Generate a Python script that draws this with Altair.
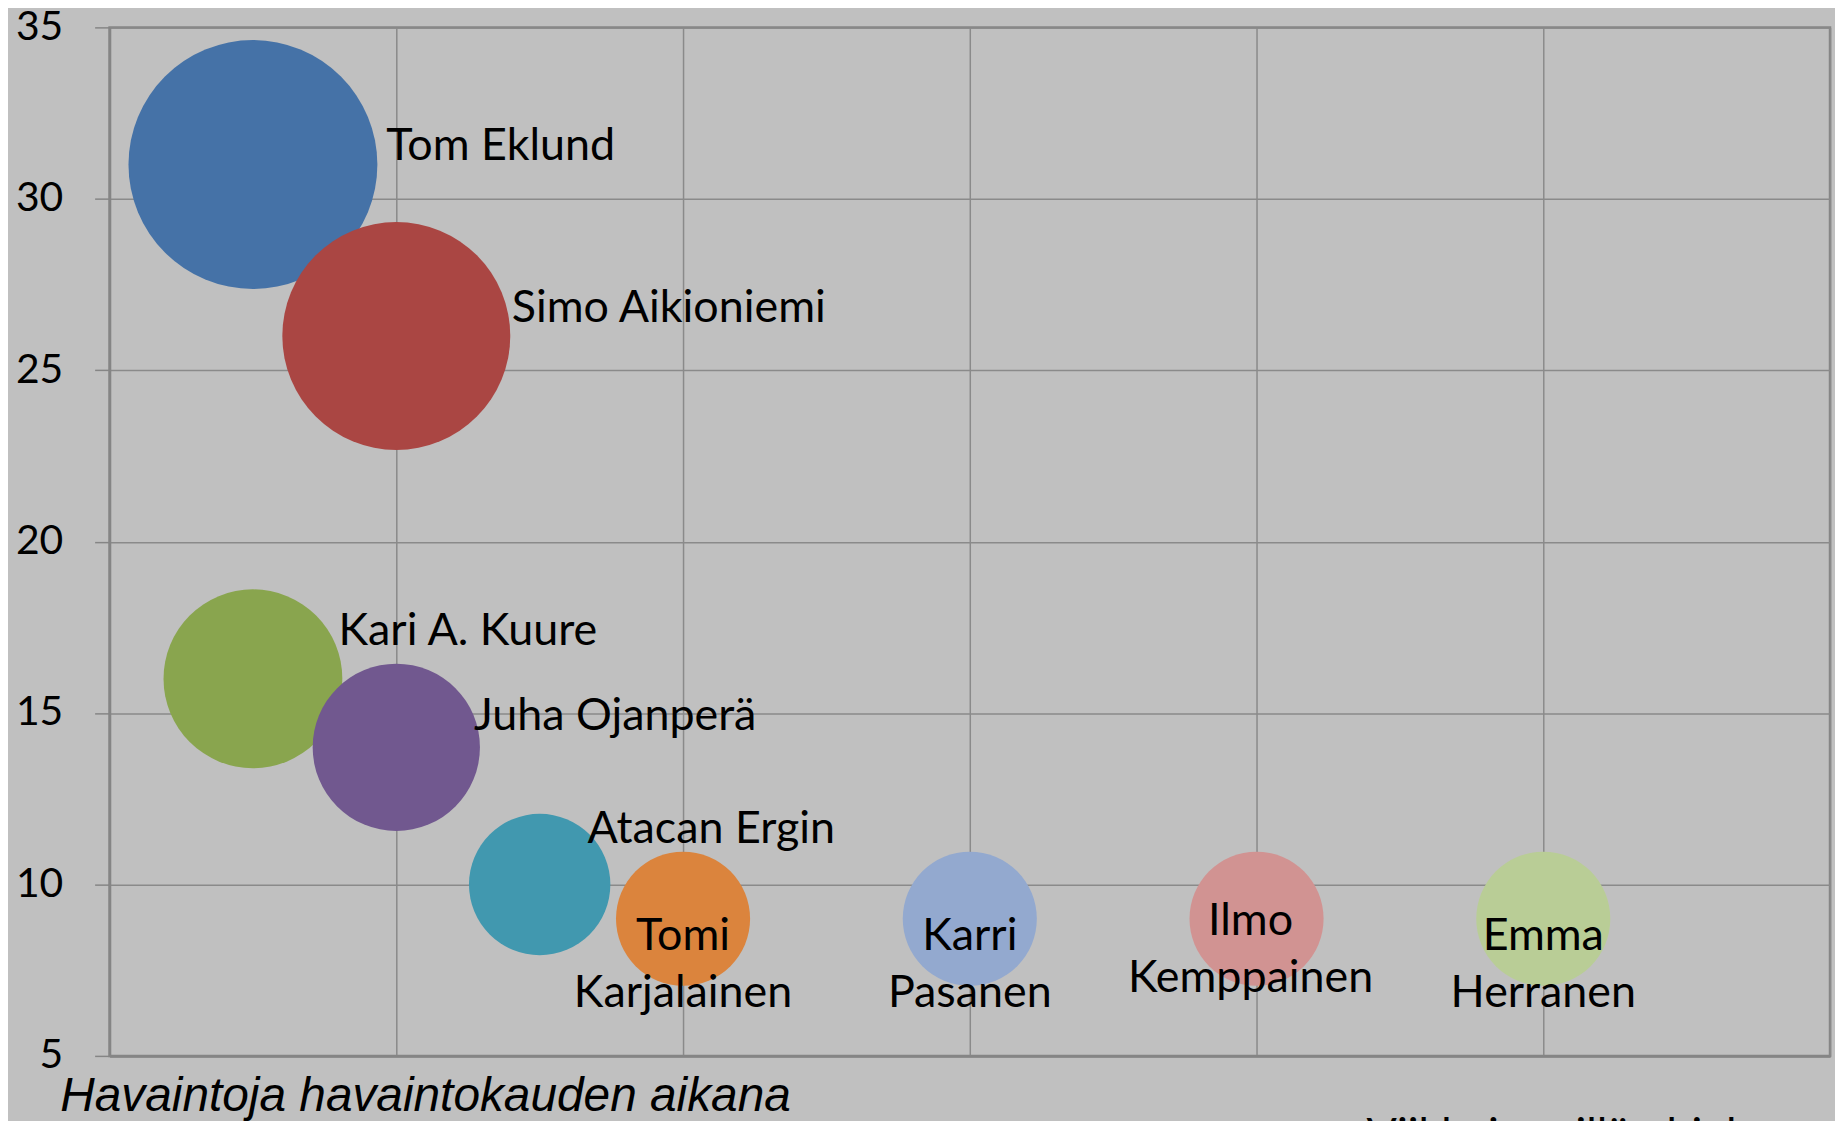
import altair as alt
import pandas as pd

# ---- data ----
names = ["Tom Eklund", "Simo Aikioniemi", "Kari A. Kuure", "Juha Ojanperä",
         "Atacan Ergin", "Tomi Karjalainen", "Karri Pasanen", "Ilmo Kemppainen",
         "Emma Herranen"]
x_vals = [0.5, 1, 0.5, 1, 1.5, 2, 3, 4, 5]
y_vals = [31, 26, 16, 14, 10, 9, 9, 9, 9]
sizes = [31, 26, 16, 14, 10, 9, 9, 9, 9]
palette = ["#4572A7", "#AA4643", "#89A54E", "#71588F", "#4198AF",
           "#DB843D", "#93A9CF", "#D19392", "#B9CD96"]
y_ticks = [5, 10, 15, 20, 25, 30, 35]
x_ticks = [0, 1, 2, 3, 4, 5, 6]
y_title = "Havaintoja havaintokauden aikana"
x_title = "Viikkoja esillä ohjelmassa mukana"

df = pd.DataFrame({"name": names, "x": x_vals, "y": y_vals,
                   "size": sizes, "order": list(range(len(names)))})

W, H = 1728, 1033
GRID = "#8a8a8a"
FRAME = "#858585"

xs = alt.Scale(domain=[0, 6], nice=False, zero=False)
ys = alt.Scale(domain=[5, 35], nice=False, zero=False)

base = alt.Chart(df)

bubbles = base.mark_circle(opacity=1, strokeWidth=0).encode(
    x=alt.X("x:Q", scale=xs,
            axis=alt.Axis(values=x_ticks, labels=False, ticks=False, grid=True,
                          gridColor=GRID, gridWidth=1.5, domainColor=FRAME,
                          domainWidth=2.5, title=x_title, titleFont="Lato",
                          titleFontSize=45, titleFontWeight="normal",
                          titleColor="black", titleAlign="left",
                          titleBaseline="alphabetic", titleX=1262, titleY=94)),
    y=alt.Y("y:Q", scale=ys,
            axis=alt.Axis(values=y_ticks, grid=True, gridColor=GRID, gridWidth=1.5,
                          domainColor=FRAME, domainWidth=2.5, tickColor=FRAME,
                          tickWidth=1.5, tickSize=15, labelFont="Lato",
                          labelFontSize=41, labelColor="black", labelPadding=32,
                          title=y_title, titleFont="Liberation Sans",
                          titleFontStyle="italic", titleFontWeight="normal",
                          titleFontSize=48, titleColor="black", titleAngle=0,
                          titleAlign="left", titleBaseline="alphabetic",
                          titleX=-50, titleY=1088)),
    size=alt.Size("size:Q", scale=alt.Scale(domain=[0, 31], range=[0, 62500]),
                  legend=None),
    color=alt.Color("name:N", scale=alt.Scale(domain=names, range=palette),
                    legend=None),
    order=alt.Order("order:Q"),
)

# label placement (style): name -> (dx, dy, align, multiline)
placement = {
    "Tom Eklund": (134, -5, "left", False),
    "Simo Aikioniemi": (116, -14, "left", False),
    "Kari A. Kuure": (86, -34, "left", False),
    "Juha Ojanperä": (78, -17, "left", False),
    "Atacan Ergin": (48, -42, "left", False),
    "Tomi Karjalainen": (0, 31, "center", True),
    "Karri Pasanen": (0, 31, "center", True),
    "Ilmo Kemppainen": (-6, 16, "center", True),
    "Emma Herranen": (0, 31, "center", True),
}

layers = [bubbles]
for nm, (dx, dy, al, multi) in placement.items():
    kw = dict(dx=dx, dy=dy, align=al, baseline="alphabetic", font="Lato",
              fontSize=45, color="black")
    if multi:
        kw["lineBreak"] = " "
        kw["lineHeight"] = 58
    layers.append(
        base.transform_filter(alt.datum.name == nm).mark_text(**kw).encode(
            x=alt.X("x:Q", scale=xs), y=alt.Y("y:Q", scale=ys), text="name:N")
    )

chart = alt.layer(*layers).properties(
    width=W, height=H,
    autosize=alt.AutoSizeParams(type="none"),
    padding={"left": 102, "top": 17, "right": 5, "bottom": 80},
    background="#C0C0C0",
).configure_view(stroke=FRAME, strokeWidth=2.5)

chart.save("out.html", embed_options={"renderer": "svg", "actions": False})
